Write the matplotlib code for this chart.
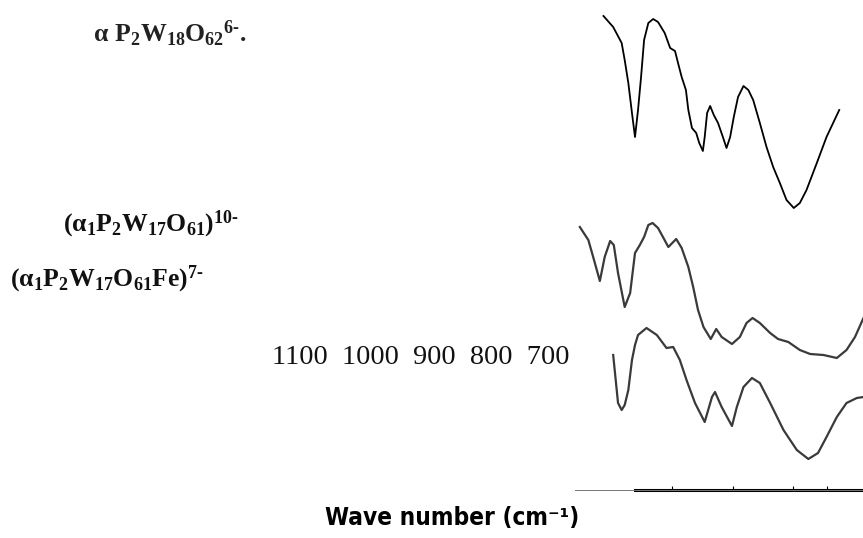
import matplotlib
matplotlib.use("Agg")
import matplotlib.pyplot as plt

# ===================== DATA =====================
# wave number (cm-1) and relative transmittance (arbitrary units, stacked)
wn_p2w18 = [1113, 1097, 1083, 1078, 1072, 1066, 1061, 1056, 1051, 1046, 1039,
            1031, 1023, 1012, 1003, 995, 990, 984, 977, 973, 967, 960, 955, 949,
            946, 942, 937, 931, 924, 916, 910, 904, 898, 891, 882, 874, 866, 855,
            844, 833, 822, 811, 799, 789, 778, 761, 745, 724]
tr_p2w18 = [474, 463, 447, 430, 407, 377, 353, 380, 413, 450, 467,
            471, 468, 457, 442, 439, 427, 413, 400, 380, 362, 357, 347, 339,
            353, 377, 384, 375, 367, 353, 342, 353, 373, 393, 404, 400, 390, 367,
            343, 323, 307, 290, 282, 287, 300, 327, 353, 380]

wn_p2w17 = [1152, 1138, 1130, 1119, 1111, 1102, 1096, 1089, 1078, 1069, 1061,
            1053, 1046, 1039, 1032, 1023, 1014, 1006, 993, 984, 973, 965, 957,
            948, 936, 927, 918, 901, 888, 877, 867, 855, 838, 825, 808, 789, 772,
            750, 728, 712, 698, 684]
tr_p2w17 = [263, 250, 233, 209, 233, 249, 245, 217, 183, 197, 237,
            245, 253, 265, 267, 262, 252, 243, 251, 242, 223, 203, 180,
            163, 151, 161, 153, 146, 153, 167, 172, 167, 157, 151, 148, 140, 136,
            135, 132, 140, 153, 172]

wn_p2w17fe = [1097, 1092, 1089, 1083, 1078, 1072, 1066, 1061, 1056, 1042, 1025,
              1009, 998, 987, 976, 962, 946, 934, 929, 918, 901, 893, 882, 868,
              855, 838, 816, 794, 775, 759, 745, 728, 712, 695, 684]
tr_p2w17fe = [135, 105, 87, 80, 85, 100, 130, 145, 155, 162, 155,
              142, 143, 130, 110, 87, 68, 93, 98, 83, 64, 83, 103, 112,
              107, 87, 60, 40, 31, 37, 53, 73, 87, 92, 93]

series_labels = [r"$\alpha\ P_2W_{18}O_{62}{}^{6\text{-}}.$",
                 r"$(\alpha_1P_2W_{17}O_{61})^{10\text{-}}$",
                 r"$(\alpha_1P_2W_{17}O_{61}Fe)^{7\text{-}}$"]
tick_text = "1100  1000  900  800  700"
axis_ticks = [1000, 900, 800, 745]
# =======================================================================

plt.rcParams["mathtext.fontset"] = "custom"
plt.rcParams["mathtext.rm"] = "Liberation Serif:bold"
plt.rcParams["mathtext.it"] = "Liberation Serif:bold"
plt.rcParams["mathtext.bf"] = "Liberation Serif:bold"
plt.rcParams["mathtext.default"] = "rm"

W, H = 863, 538
fig = plt.figure(figsize=(W / 100, H / 100), dpi=100)

ax = fig.add_axes([575 / W, 48 / H, 288 / W, 490 / H])
ax.plot(wn_p2w18, tr_p2w18, color="black", lw=1.3, solid_joinstyle="round")
ax.plot(wn_p2w17, tr_p2w17, color="#3a3a3a", lw=1.6, solid_joinstyle="round")
ax.plot(wn_p2w17fe, tr_p2w17fe, color="#3a3a3a", lw=1.6, solid_joinstyle="round")
ax.set_xlim(1160, 684.8)
ax.set_ylim(0, 490)

for s in ["top", "left", "right"]:
    ax.spines[s].set_visible(False)
ax.spines["bottom"].set_color("#777777")
ax.spines["bottom"].set_linewidth(0.7)
ax.axhline(0, xmin=60 / 288, xmax=1, color="black", lw=2.2, clip_on=False)
ax.set_xticks(axis_ticks)
ax.tick_params(axis="x", direction="in", length=3, width=0.8, labelbottom=False)
ax.set_yticks([])

# labels for the three spectra
fig.text(93 / W, 1 - 42 / H, series_labels[0], fontsize=18.5, color="#222222")
fig.text(63 / W, 1 - 231 / H, series_labels[1], fontsize=18.5, color="#111111")
fig.text(10 / W, 1 - 286 / H, series_labels[2], fontsize=18.5, color="#111111")

fig.text(272 / W, 1 - 357 / H, tick_text, fontsize=20.3, va="center",
         family="Liberation Serif", color="#111111")

fig.text(452 / W, 1 - 518 / H, "Wave number (cm\u207b\u00b9)", fontsize=17.5,
         ha="center", va="center", family="DejaVu Sans", fontstretch="condensed",
         fontweight="bold")

fig.savefig("out.png", dpi=100)
